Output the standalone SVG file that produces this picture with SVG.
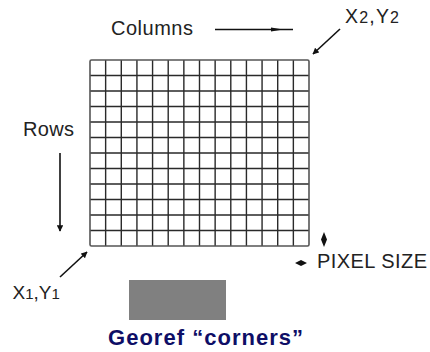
<svg xmlns="http://www.w3.org/2000/svg" width="430" height="352" viewBox="0 0 430 352">
<style>
.lbl{font-family:"Liberation Sans",Arial,sans-serif;fill:#222;}
.grid{stroke:#2a2a2a;stroke-width:1.4;fill:none;}
.arr{stroke:#111;stroke-width:1.6;fill:none;}
.head{fill:#111;}
</style>
<defs>
<marker id="ah" viewBox="0 0 10 10" refX="9" refY="5" markerWidth="4" markerHeight="4" orient="auto">
<path d="M0,0 L10,5 L0,10 z" class="head"/>
</marker>
</defs>
<rect width="430" height="352" fill="#fff"/>
<g id="grid">
<path class="grid" d="M105.64,60V246M121.29,60V246M136.93,60V246M152.57,60V246M168.21,60V246M183.86,60V246M199.5,60V246M215.14,60V246M230.79,60V246M246.43,60V246M262.07,60V246M277.71,60V246M293.36,60V246M90,75.5H309M90,91H309M90,106.5H309M90,122H309M90,137.5H309M90,153H309M90,168.5H309M90,184H309M90,199.5H309M90,215H309M90,230.5H309"/>
<rect x="90" y="60" width="219" height="186" rx="1.5" fill="none" stroke="#555" stroke-width="1.6"/>
</g>
<g id="connectors">
<line class="arr" x1="215" y1="29.5" x2="293" y2="29.5" stroke-width="1.4"/>
<path class="head" d="M271,27.5 L283,29.5 L271,31.5 z"/>
<line class="arr" x1="340" y1="29" x2="313" y2="54" marker-end="url(#ah)"/>
<line class="arr" x1="60" y1="153" x2="60" y2="231" marker-end="url(#ah)"/>
<line class="arr" x1="60" y1="277" x2="87" y2="252" marker-end="url(#ah)"/>
<path class="head" d="M324,232 L327,239.5 L321,239.5 z M324,247 L327,239.5 L321,239.5 z"/>
<path class="head" d="M295,263 L301,260 L301,266 z M307,263 L301,260 L301,266 z"/>
</g>
<g id="columns"><text class="lbl" x="111" y="35" font-size="20" textLength="82">Columns</text></g>
<g id="rows"><text class="lbl" x="23" y="136" font-size="20" textLength="51">Rows</text></g>
<g id="x2y2"><text class="lbl" x="345" y="23" font-size="19.5" textLength="54">X<tspan font-size="16">2</tspan>,Y<tspan font-size="16">2</tspan></text></g>
<g id="x1y1"><text class="lbl" x="12.5" y="299" font-size="19">X<tspan font-size="15">1</tspan>,Y<tspan font-size="15">1</tspan></text></g>
<g id="pixelsize"><text class="lbl" x="317" y="268" font-size="20" textLength="110">PIXEL SIZE</text></g>
<g id="legend">
<rect x="129" y="280" width="97" height="40" fill="#808080"/>
<text x="108" y="345" font-family="'Liberation Sans',Arial,sans-serif" font-weight="bold" font-size="22" fill="#0e0e66" textLength="195">Georef “corners”</text>
</g>
</svg>
